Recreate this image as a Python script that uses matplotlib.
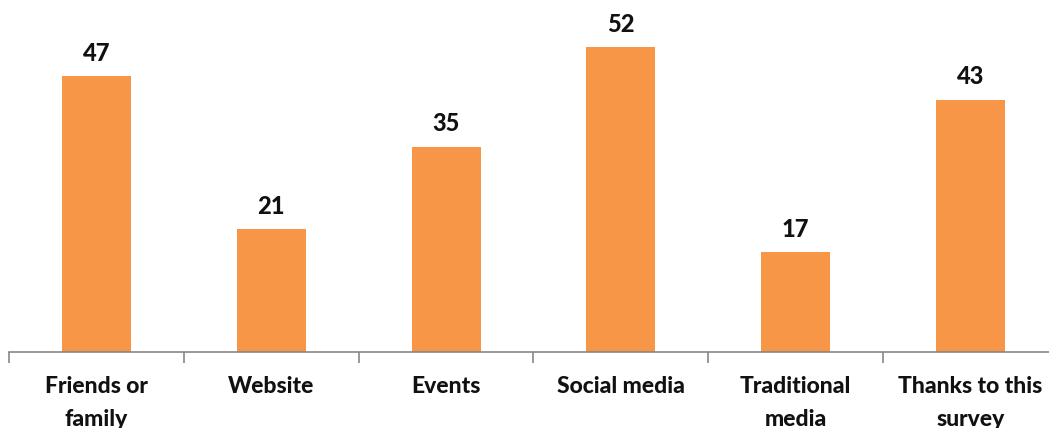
import matplotlib.pyplot as plt
import numpy as np

# where people heard about us
categories = ["Friends or\nfamily", "Website", "Events", "Social media",
              "Traditional\nmedia", "Thanks to this\nsurvey"]
counts = [47, 21, 35, 52, 17, 43]

bar_color = "#F79646"
axis_color = "#878787"

fig = plt.figure(figsize=(10.49, 4.28), dpi=100)
ax = fig.add_axes([9 / 1049, 76 / 428, 1049 / 1049, 352 / 428])

x = np.arange(len(categories))
bars = ax.bar(x, counts, width=0.395, color=bar_color)

for xi, v in zip(x, counts):
    ax.annotate(str(v), (xi, v), xytext=(0, 11), textcoords="offset points",
                ha="center", va="baseline", fontsize=17, fontweight="black",
                family="Lato", color="#111111")

ax.set_xlim(-0.5, len(categories) - 0.5)
ax.set_ylim(0, 60)

# category labels in the middle, small tick marks between the groups
ax.set_xticks(x)
ax.set_xticklabels(categories, fontsize=16.5, fontweight="black", family="Lato",
                   color="#111111", linespacing=1.72)
ax.tick_params(axis="x", which="major", length=0, pad=17)
ax.set_xticks(np.arange(-0.5, len(categories)), minor=True)
ax.tick_params(axis="x", which="minor", length=8, width=1.2, color=axis_color)
ax.set_yticks([])

for side in ["top", "right", "left"]:
    ax.spines[side].set_visible(False)
ax.spines["bottom"].set_color(axis_color)
ax.spines["bottom"].set_linewidth(1.2)

fig.savefig("out.png", dpi=100)
